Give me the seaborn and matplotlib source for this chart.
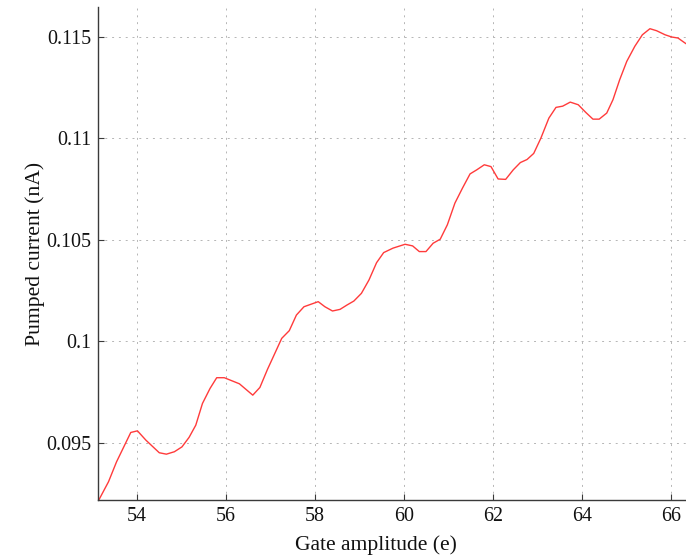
import matplotlib
matplotlib.use("Agg")
import matplotlib.pyplot as plt
import seaborn as sns
import pandas as pd
from matplotlib.ticker import FixedLocator

gate_amplitude = [
    53.14, 53.36, 53.54, 53.86, 54.01, 54.20, 54.50, 54.66, 54.84, 55.01,
    55.17, 55.32, 55.47, 55.64, 55.79, 55.96, 56.30, 56.60, 56.76, 56.93,
    57.06, 57.25, 57.42, 57.58, 57.75, 58.07, 58.22, 58.39, 58.56, 58.72,
    58.87, 59.04, 59.21, 59.38, 59.54, 59.75, 60.02, 60.19, 60.34, 60.49,
    60.65, 60.81, 60.97, 61.14, 61.31, 61.48, 61.63, 61.80, 61.95, 62.11,
    62.28, 62.45, 62.61, 62.76, 62.91, 63.07, 63.25, 63.41, 63.56, 63.73,
    63.91, 64.08, 64.24, 64.38, 64.55, 64.69, 64.84, 65.00, 65.18, 65.35,
    65.52, 65.67, 65.86, 66.01, 66.15, 66.33,
]
pumped_current = [
    0.09216, 0.09307, 0.09405, 0.09550, 0.09558, 0.09512, 0.09450, 0.09443, 0.09455, 0.09479,
    0.09526, 0.09586, 0.09693, 0.09767, 0.09820, 0.09820, 0.09790, 0.09734, 0.09772, 0.09861,
    0.09923, 0.10014, 0.10052, 0.10129, 0.10170, 0.10195, 0.10170, 0.10149, 0.10157, 0.10179,
    0.10198, 0.10236, 0.10302, 0.10387, 0.10437, 0.10459, 0.10478, 0.10470, 0.10442, 0.10442,
    0.10483, 0.10503, 0.10574, 0.10681, 0.10755, 0.10825, 0.10845, 0.10870, 0.10861, 0.10800,
    0.10798, 0.10845, 0.10881, 0.10896, 0.10926, 0.11001, 0.11100, 0.11153, 0.11159, 0.11179,
    0.11166, 0.11128, 0.11095, 0.11095, 0.11125, 0.11191, 0.11289, 0.11380, 0.11454, 0.11511,
    0.11541, 0.11531, 0.11511, 0.11500, 0.11495, 0.11467,
]
x_ticks = [54, 56, 58, 60, 62, 64, 66]
y_ticks = [0.095, 0.1, 0.105, 0.11, 0.115]
y_tick_labels = ["0.095", "0.1", "0.105", "0.11", "0.115"]

sns.set_theme(style="ticks")
plt.rcParams["font.family"] = ["Liberation Serif", "DejaVu Serif"]

df = pd.DataFrame({"x": gate_amplitude, "y": pumped_current})

fig = plt.figure(figsize=(6.86, 5.57), dpi=100)
ax = fig.add_axes([98 / 686, 57 / 557, 1 - 98 / 686, 493 / 557])

sns.lineplot(data=df, x="x", y="y", color="#ff3b3b", linewidth=1.0, ax=ax)

ax.set_xlim(53.124, 66.33)
ax.set_ylim(0.09217, 0.11648)
ax.xaxis.set_major_locator(FixedLocator(x_ticks))
ax.yaxis.set_major_locator(FixedLocator(y_ticks))
ax.set_yticklabels(y_tick_labels)

ax.grid(True, color="#b5b5b5", linestyle=(0, (2, 5)), linewidth=0.7)
for s in ["top", "right"]:
    ax.spines[s].set_visible(False)
for s in ["left", "bottom"]:
    ax.spines[s].set_color("#3a3a3a")
    ax.spines[s].set_linewidth(1.0)

ax.tick_params(axis="both", direction="in", length=4, width=0.8, color="#3a3a3a",
               labelsize=14.4, labelcolor="#111111", pad=5)

ax.set_xlabel("Gate amplitude (e)", fontsize=15.6, color="#111111")
ax.set_ylabel("Pumped current (nA)", fontsize=15.6, color="#111111", labelpad=1)
ax.xaxis.set_label_coords(0.473, -0.072, transform=ax.transAxes)
ax.xaxis.label.set_va("top")

fig.savefig("out.png", dpi=100)
